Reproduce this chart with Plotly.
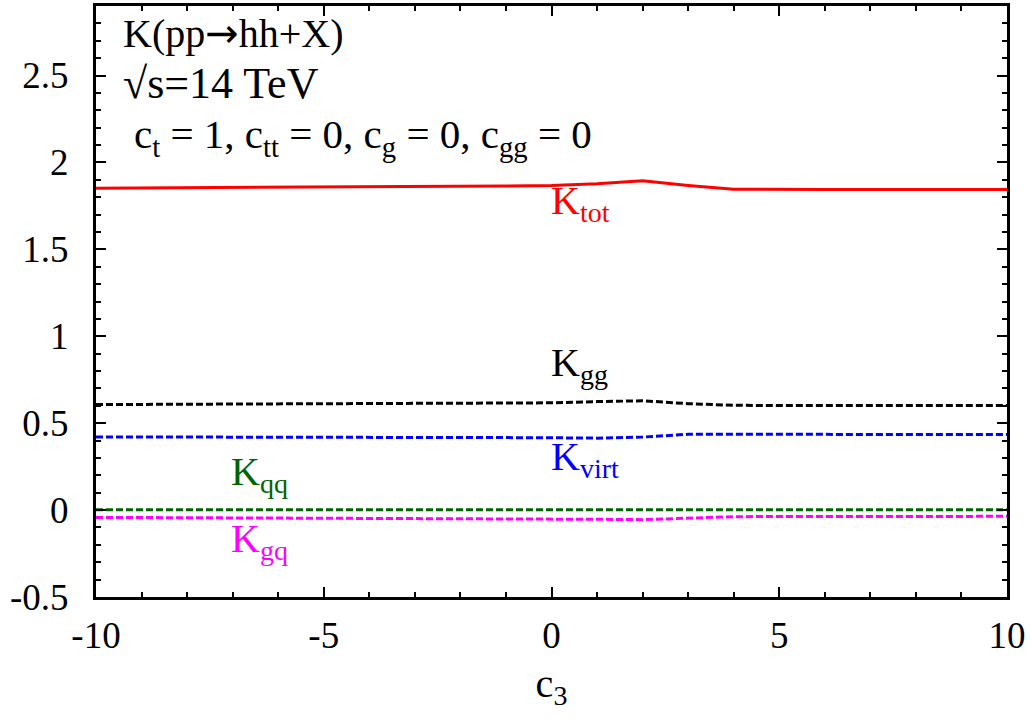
import plotly.graph_objects as go

c3 = [-10, -9, -8, -7, -6, -5, -4, -3, -2, -1, 0, 1, 2, 3, 4, 5, 6, 7, 8, 9, 10]
K_tot = [1.852, 1.853, 1.854, 1.855, 1.856, 1.857, 1.858, 1.859, 1.861, 1.864, 1.868,
         1.878, 1.895, 1.868, 1.846, 1.844, 1.845, 1.845, 1.845, 1.845, 1.845]
K_gg = [0.607, 0.608, 0.609, 0.610, 0.610, 0.611, 0.612, 0.613, 0.614, 0.615, 0.617,
        0.624, 0.629, 0.612, 0.603, 0.601, 0.601, 0.601, 0.601, 0.601, 0.601]
K_virt = [0.421, 0.421, 0.420, 0.420, 0.420, 0.419, 0.419, 0.418, 0.418, 0.417, 0.416,
          0.414, 0.420, 0.436, 0.436, 0.435, 0.435, 0.435, 0.435, 0.435, 0.435]
K_qq = [0.002] * 21
K_gq = [-0.042, -0.043, -0.043, -0.044, -0.044, -0.045, -0.045, -0.046, -0.046, -0.047, -0.048,
        -0.053, -0.055, -0.045, -0.038, -0.037, -0.036, -0.036, -0.036, -0.036, -0.036]

ytick_vals = [-0.5, 0, 0.5, 1, 1.5, 2, 2.5]
ytick_text = ["-0.5", "0", "0.5", "1", "1.5", "2", "2.5"]
xtick_vals = [-10, -5, 0, 5, 10]
xtick_text = ["-10", "-5", "0", "5", "10"]

FONT = "Liberation Serif, Times New Roman, serif"
dash = "7px,3px"

fig = go.Figure()
fig.add_trace(go.Scatter(x=c3, y=K_tot, mode="lines", line=dict(color="#ff0000", width=3)))
fig.add_trace(go.Scatter(x=c3, y=K_gg, mode="lines", line=dict(color="#000000", width=3, dash=dash)))
fig.add_trace(go.Scatter(x=c3, y=K_virt, mode="lines", line=dict(color="#0000ff", width=3, dash=dash)))
fig.add_trace(go.Scatter(x=c3, y=K_qq, mode="lines", line=dict(color="#006400", width=3, dash=dash)))
fig.add_trace(go.Scatter(x=c3, y=K_gq, mode="lines", line=dict(color="#ff00ff", width=3, dash=dash)))

arrow = "<span style='font-family:DejaVu Sans'>→</span>"
annots = [
    dict(x=-9.45, y=2.745, text="K(pp" + arrow + "hh+X)", color="#000000", size=40),
    dict(x=-9.45, y=2.455, text="√s=14 TeV", color="#000000", size=44),
    dict(x=-9.22, y=2.145, text="c<sub>t</sub> = 1, c<sub>tt</sub> = 0, c<sub>g</sub> = 0, c<sub>gg</sub> = 0", color="#000000", size=41),
    dict(x=-0.05, y=1.765, text="K<sub>tot</sub>", color="#ff0000", size=40),
    dict(x=-0.06, y=0.835, text="K<sub>gg</sub>", color="#000000", size=40),
    dict(x=-0.06, y=0.295, text="K<sub>virt</sub>", color="#0000ff", size=40),
    dict(x=-7.08, y=0.205, text="K<sub>qq</sub>", color="#006400", size=40),
    dict(x=-7.08, y=-0.180, text="K<sub>gq</sub>", color="#ff00ff", size=40),
]
for a in annots:
    fig.add_annotation(x=a["x"], y=a["y"], xref="x", yref="y", text=a["text"],
                       showarrow=False, xanchor="left", yanchor="middle",
                       font=dict(family=FONT, size=a["size"], color=a["color"]))

axis_common = dict(showline=True, linewidth=3, linecolor="black", mirror="ticks",
                   ticks="inside", ticklen=10, tickwidth=2, tickcolor="black",
                   showgrid=False, zeroline=False, automargin=False,
                   tickfont=dict(family=FONT, size=37, color="black"))

fig.update_xaxes(range=[-10, 10], tickvals=xtick_vals, ticktext=xtick_text,
                 minor=dict(dtick=1, ticks="inside", ticklen=5, tickwidth=2, tickcolor="black"),
                 title=dict(text="c<sub>3</sub>", font=dict(family=FONT, size=40, color="black"), standoff=14),
                 ticklabelstandoff=4,
                 **axis_common)
fig.update_yaxes(range=[-0.5, 2.9], tickvals=ytick_vals, ticktext=ytick_text,
                 minor=dict(dtick=0.1, ticks="inside", ticklen=5, tickwidth=2, tickcolor="black"),
                 ticklabelstandoff=17,
                 **axis_common)

fig.update_layout(width=1031, height=720, showlegend=False,
                  margin=dict(l=96, r=24, t=6, b=123),
                  plot_bgcolor="white", paper_bgcolor="white",
                  font=dict(family=FONT, size=37, color="black"))

fig.write_html("out.html", config={"displayModeBar": False},
               post_script="document.body.style.margin='0px';document.body.style.overflow='hidden';")
